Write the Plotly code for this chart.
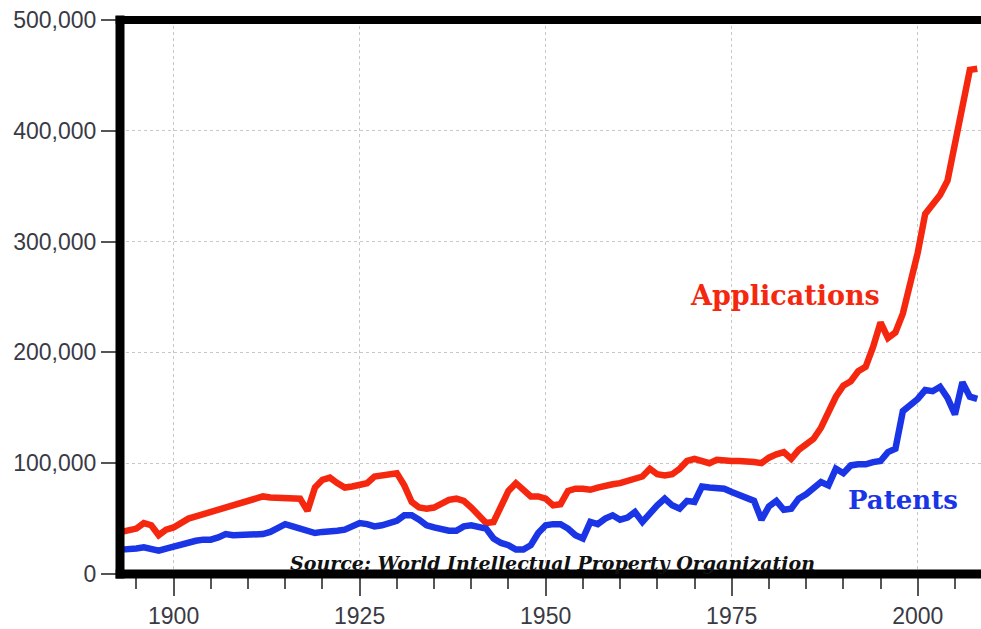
import plotly.graph_objects as go

years = list(range(1893, 2009))

applications = [
    38, 39, 41, 46, 44, 35, 40, 42, 46, 50,          # 1893-1902
    52, 54, 56, 58, 60, 63, 65, 67, 69, 70,          # 1903-1912
    69, 69, 69, 69, 68, 57, 78, 85, 87, 82,          # 1913-1922
    78, 79, 80, 82, 88, 89, 90, 91, 80, 65,          # 1923-1932
    60, 59, 60, 64, 67, 68, 66, 60, 52, 46,          # 1933-1942
    47, 60, 75, 82, 76, 70, 70, 68, 62, 63,          # 1943-1952
    75, 77, 77, 76, 78, 80, 81, 82, 84, 87,          # 1953-1962
    88, 95, 90, 89, 90, 95, 102, 104, 102, 100,      # 1963-1972
    103, 102, 102, 102, 102, 101, 100, 105, 108, 110,  # 1973-1982
    104, 112, 117, 122, 132, 147, 160, 170, 174, 183,  # 1983-1992
    187, 205, 227, 213, 218, 235, 260, 290, 325, 334,  # 1993-2002
    342, 355, 390, 420, 455, 456,                      # 2003-2008
]

patents = [
    22, 22, 23, 24, 22, 21, 23, 25, 26, 28,          # 1893-1902
    30, 31, 31, 33, 36, 35, 35, 35, 35, 36,          # 1903-1912
    38, 42, 45, 43, 41, 38, 37, 38, 38, 39,          # 1913-1922
    40, 43, 46, 45, 43, 44, 46, 48, 53, 53,          # 1923-1932
    49, 44, 42, 40, 39, 39, 43, 44, 43, 41,          # 1933-1942
    32, 28, 26, 22, 22, 26, 37, 44, 45, 45,          # 1943-1952
    41, 35, 32, 47, 45, 50, 53, 49, 51, 56,          # 1953-1962
    47, 55, 62, 68, 62, 59, 66, 65, 79, 78,          # 1963-1972
    77, 77, 74, 71, 68, 66, 49, 61, 66, 58,          # 1973-1982
    59, 68, 72, 77, 83, 80, 95, 91, 98, 99,          # 1983-1992
    99, 101, 102, 110, 113, 147, 152, 158, 166, 165,  # 1993-2002
    169, 159, 144, 173, 160, 158,                     # 2003-2008
]

applications = [v * 1000 for v in applications]
patents = [v * 1000 for v in patents]

y_ticks = [0, 100000, 200000, 300000, 400000, 500000]
x_ticks = [1900, 1925, 1950, 1975, 2000]

fig = go.Figure()
fig.add_trace(go.Scatter(x=years, y=applications, mode="lines",
                         line=dict(color="#f5280f", width=6.5), name="Applications"))
fig.add_trace(go.Scatter(x=years, y=patents, mode="lines",
                         line=dict(color="#1a35e6", width=6.5), name="Patents"))

tick_font = dict(family="Liberation Sans, Arial, sans-serif", size=23, color="#3a3a44")

fig.update_layout(
    width=981, height=629,
    margin=dict(l=120, r=0, t=20, b=53),
    paper_bgcolor="white", plot_bgcolor="white",
    showlegend=False,
    xaxis=dict(
        range=[1892.8, 2008.5],
        tickmode="array", tickvals=x_ticks,
        ticks="outside", ticklen=21, tickwidth=1.5, tickcolor="#555555",
        tickfont=tick_font,
        showgrid=True, gridcolor="#c8c8c8", griddash="dot", gridwidth=1,
        zeroline=False, showline=False,
        minor=dict(dtick=5, tick0=1900, ticks="outside", ticklen=14,
                   tickwidth=1.5, tickcolor="#555555", showgrid=False),
    ),
    yaxis=dict(
        range=[0, 500000],
        tickmode="array", tickvals=y_ticks,
        tickformat=",d",
        ticks="outside", ticklen=18, tickwidth=1.5, tickcolor="#555555",
        tickfont=tick_font,
        showgrid=True, gridcolor="#c8c8c8", griddash="dot", gridwidth=1,
        zeroline=False, showline=False,
    ),
    shapes=[
        dict(type="line", xref="paper", yref="paper", x0=0, x1=0, y0=-0.008, y1=1.008,
             line=dict(color="black", width=9), layer="above"),
        dict(type="line", xref="paper", yref="paper", x0=-0.005, x1=1, y0=1, y1=1,
             line=dict(color="black", width=8), layer="above"),
        dict(type="line", xref="paper", yref="paper", x0=-0.005, x1=1, y0=0, y1=0,
             line=dict(color="black", width=9), layer="above"),
    ],
    annotations=[
        dict(text="<b>Applications</b>", xref="paper", yref="paper",
             x=0.7724, y=0.5036, xanchor="center", yanchor="middle", showarrow=False,
             font=dict(family="DejaVu Serif, serif", size=27, color="#f5280f")),
        dict(text="<b>Patents</b>", xref="paper", yref="paper",
             x=0.9094, y=0.1331, xanchor="center", yanchor="middle", showarrow=False,
             font=dict(family="DejaVu Serif, serif", size=26, color="#1a35e6")),
        dict(text="<b><i>Source: World Intellectual Property Organization</i></b>",
             xref="paper", yref="paper",
             x=0.5023, y=0.0198, xanchor="center", yanchor="middle", showarrow=False,
             font=dict(family="DejaVu Serif, serif", size=19, color="#111111")),
    ],
)

fig.write_html("out.html",
               config={"displayModeBar": False},
               post_script="document.body.style.margin='0';document.body.style.overflow='hidden';")
